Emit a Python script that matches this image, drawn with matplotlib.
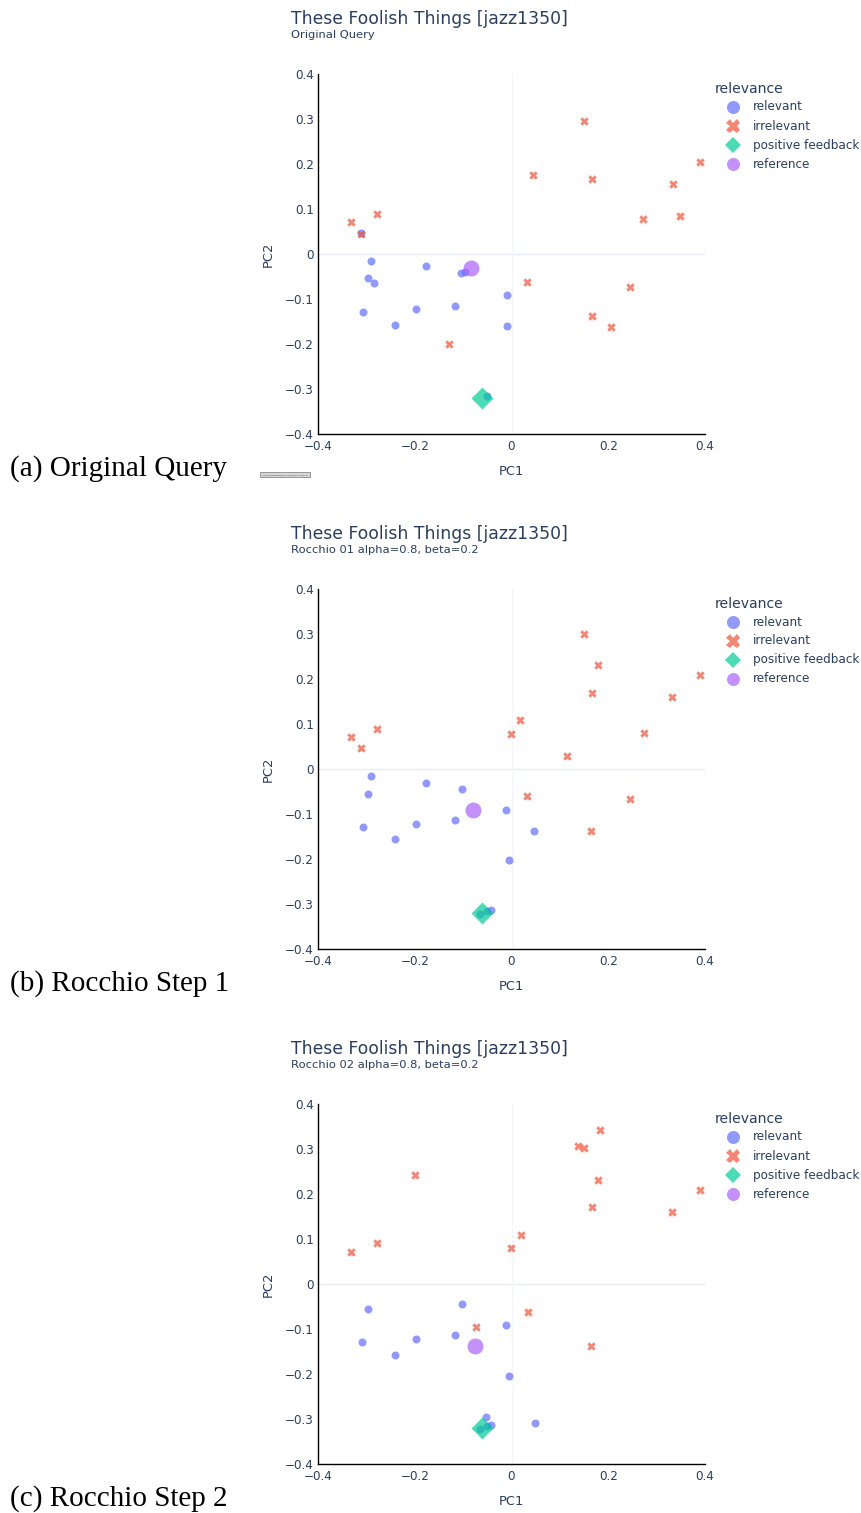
import matplotlib
matplotlib.use("Agg")
import matplotlib.pyplot as plt
from matplotlib.lines import Line2D
from matplotlib.patches import Rectangle
from matplotlib.ticker import FuncFormatter

# --- data: PCA projection of the query results per step ---
song_title = "These Foolish Things [jazz1350]"
subtitles = ["Original Query",
             "Rocchio 01 alpha=0.8, beta=0.2",
             "Rocchio 02 alpha=0.8, beta=0.2"]
captions = ["(a) Original Query", "(b) Rocchio Step 1", "(c) Rocchio Step 2"]
legend_labels = ["relevant", "irrelevant", "positive feedback", "reference"]
axis_ticks = [-0.4, -0.3, -0.2, -0.1, 0, 0.1, 0.2, 0.3, 0.4]
x_ticks = [-0.4, -0.2, 0, 0.2, 0.4]

relevant_x_0 = [-0.311, -0.290, -0.177, -0.104, -0.097, -0.296, -0.284, -0.010,
                -0.307, -0.197, -0.117, -0.240, -0.009, -0.050]
relevant_y_0 = [0.046, -0.015, -0.026, -0.042, -0.041, -0.054, -0.064, -0.092,
                -0.128, -0.122, -0.116, -0.157, -0.160, -0.316]
irrelevant_x_0 = [-0.332, -0.312, -0.279, 0.045, 0.150, 0.166, 0.272, 0.333,
                  0.349, 0.389, 0.033, 0.245, 0.166, 0.205, -0.129]
irrelevant_y_0 = [0.072, 0.044, 0.089, 0.176, 0.296, 0.166, 0.077, 0.156,
                  0.085, 0.205, -0.062, -0.073, -0.138, -0.163, -0.200]

relevant_x_1 = [-0.290, -0.177, -0.103, -0.297, -0.011, -0.308, -0.198, -0.117,
                -0.240, 0.046, -0.006, -0.065, -0.051, -0.042]
relevant_y_1 = [-0.016, -0.031, -0.044, -0.055, -0.091, -0.128, -0.123, -0.113,
                -0.156, -0.138, -0.203, -0.323, -0.316, -0.313]
irrelevant_x_1 = [-0.331, -0.312, -0.279, -0.001, 0.018, 0.115, 0.149, 0.179,
                  0.166, 0.273, 0.332, 0.390, 0.033, 0.244, 0.165]
irrelevant_y_1 = [0.071, 0.046, 0.090, 0.077, 0.108, 0.029, 0.301, 0.232,
                  0.170, 0.080, 0.161, 0.209, -0.061, -0.067, -0.137]

relevant_x_2 = [-0.297, -0.103, -0.011, -0.309, -0.198, -0.117, -0.240, -0.006,
                -0.053, -0.042, -0.051, -0.065, 0.049]
relevant_y_2 = [-0.056, -0.044, -0.091, -0.129, -0.123, -0.114, -0.157, -0.204,
                -0.295, -0.313, -0.316, -0.322, -0.309]
irrelevant_x_2 = [-0.332, -0.279, -0.199, -0.001, 0.019, 0.138, 0.149, 0.183,
                  0.179, 0.167, 0.332, 0.390, -0.073, 0.034, 0.165]
irrelevant_y_2 = [0.071, 0.091, 0.242, 0.079, 0.108, 0.306, 0.302, 0.343,
                  0.231, 0.171, 0.161, 0.209, -0.095, -0.062, -0.137]

feedback_x = [-0.061, -0.061, -0.061]
feedback_y = [-0.321, -0.321, -0.321]
reference_x = [-0.083, -0.079, -0.075]
reference_y = [-0.032, -0.091, -0.138]

panels = [
    (relevant_x_0, relevant_y_0, irrelevant_x_0, irrelevant_y_0),
    (relevant_x_1, relevant_y_1, irrelevant_x_1, irrelevant_y_1),
    (relevant_x_2, relevant_y_2, irrelevant_x_2, irrelevant_y_2),
]

# --- style ---
W, H = 862, 1513
TXT = "#2a3f5f"
C_REL = "#636efa"
C_IRR = "#ef553b"
C_POS = "#00cc96"
C_REF = "#ab63fa"
ALPHA = 0.7
PT = 0.72  # points per pixel at dpi 100

plt.rcParams["font.family"] = ["DejaVu Sans"]

fig = plt.figure(figsize=(W / 100, H / 100), dpi=100)
fig.patch.set_facecolor("white")

# overlay in pixel coordinates for titles, legend and captions
over = fig.add_axes([0, 0, 1, 1], zorder=5)
over.set_xlim(0, W)
over.set_ylim(H, 0)
over.axis("off")
over.patch.set_alpha(0)


def fmt(v, pos):
    if abs(v) < 1e-9:
        return "0"
    return f"{v:g}".replace("-", "\u2212")


for i, (rx, ry, ix, iy) in enumerate(panels):
    off = 515 * i
    ax = fig.add_axes([318 / W, 1 - (434 + off) / H, 387 / W, 360 / H])
    ax.set_xlim(-0.4, 0.4)
    ax.set_ylim(-0.4, 0.4)
    for s in ["top", "right"]:
        ax.spines[s].set_visible(False)
    for s in ["left", "bottom"]:
        ax.spines[s].set_color("black")
        ax.spines[s].set_linewidth(1.0)
    ax.axhline(0, color="#e8ecf2", lw=1.0, zorder=0)
    ax.axvline(0, color="#f4f5f8", lw=1.0, zorder=0)
    ax.set_xticks(x_ticks)
    ax.set_yticks(axis_ticks)
    ax.xaxis.set_major_formatter(FuncFormatter(fmt))
    ax.yaxis.set_major_formatter(FuncFormatter(fmt))
    ax.tick_params(length=0, labelsize=12 * PT, labelcolor=TXT)
    ax.tick_params(axis="x", pad=4)
    ax.tick_params(axis="y", pad=3)
    ax.set_xlabel("PC1", fontsize=13 * PT, color=TXT, labelpad=9)
    ax.set_ylabel("PC2", fontsize=13 * PT, color=TXT, labelpad=7)

    ax.scatter(rx, ry, s=(8 * PT) ** 2, color=C_REL, alpha=ALPHA,
               linewidths=0, zorder=3)
    ax.scatter(ix, iy, s=(8.5 * PT) ** 2, marker="X", color=C_IRR, alpha=ALPHA,
               linewidths=0, zorder=4)
    ax.scatter(feedback_x[i], feedback_y[i], s=(15.5 * PT) ** 2, marker="D",
               color=C_POS, alpha=ALPHA, linewidths=0, zorder=5)
    ax.scatter(reference_x[i], reference_y[i], s=(16 * PT) ** 2, color=C_REF,
               alpha=ALPHA, linewidths=0, zorder=6)

    # title block
    over.text(291, 24 + off, song_title, fontsize=17.2 * PT, color=TXT,
              ha="left", va="baseline")
    over.text(291, 38 + off, subtitles[i], fontsize=11.5 * PT, color=TXT,
              ha="left", va="baseline")

    # legend
    over.text(715, 93 + off, "relevance", fontsize=14 * PT, color=TXT,
              ha="left", va="baseline")
    markers = ["o", "X", "D", "o"]
    colors = [C_REL, C_IRR, C_POS, C_REF]
    msizes = [13, 14, 12, 13]
    for k, lab in enumerate(legend_labels):
        yy = 107 + 19 * k + off
        over.add_line(Line2D([733], [yy], marker=markers[k], markersize=msizes[k] * PT,
                             color=colors[k], alpha=ALPHA, markeredgewidth=0,
                             linestyle="none"))
        over.text(753, yy, lab, fontsize=12 * PT, color=TXT, ha="left",
                  va="center")

    # caption
    over.text(10, 469 + off, captions[i], family="Liberation Serif",
              fontsize=21, color="black", ha="left", va="center")

# small loading box left over from the notebook export
over.add_patch(Rectangle((260, 472), 50, 5, facecolor="#d8d8d8",
                         edgecolor="#888888", lw=0.6))
over.text(285, 474.6, "Loading [MathJax]/extensions/MathMenu.js", fontsize=1.5,
          color="#444444", ha="center", va="center")

fig.savefig("out.png", dpi=100, facecolor="white")
